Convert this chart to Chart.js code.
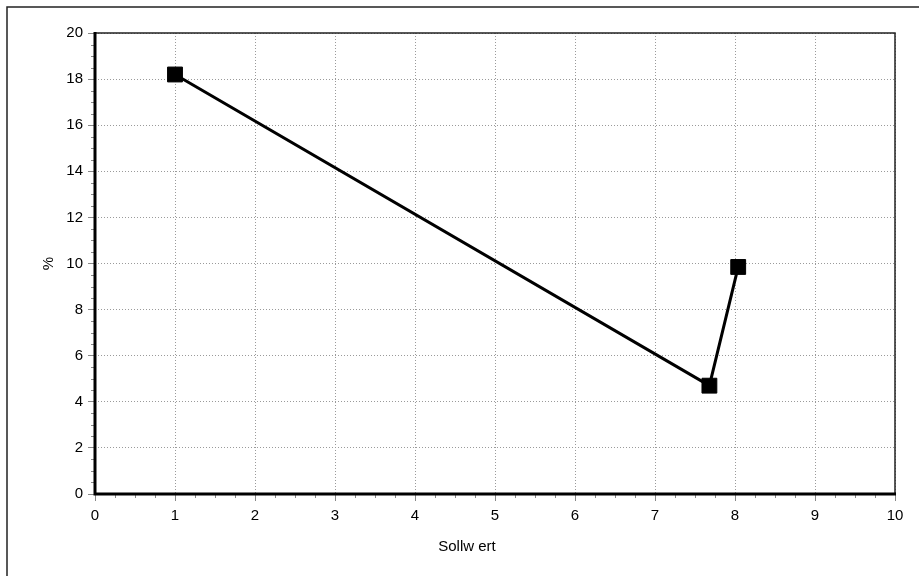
<!DOCTYPE html>
<html>
<head>
<meta charset="utf-8">
<script src="https://cdn.jsdelivr.net/npm/chart.js@4/dist/chart.umd.min.js"></script>
<style>
  html, body { margin: 0; padding: 0; background: #fff; }
  #wrap { width: 919px; height: 576px; position: relative; }
</style>
</head>
<body>
<div id="wrap"><canvas id="c" width="919" height="576"></canvas></div>
<script>
// Measured points
const sollwert = [1, 7.68, 8.04];
const prozent = [18.2, 4.7, 9.85];

// Axis settings
const xTitle = 'Sollw ert';
const yTitle = '%';
const xRange = [0, 10];
const yRange = [0, 20];
const xStep = 1;
const yStep = 2;
const xMinorStep = 0.25;
const yMinorStep = 0.5;

const FONT = '"Liberation Sans", Arial, sans-serif';

const points = sollwert.map((x, i) => ({ x: x, y: prozent[i] }));

// Frame, axis lines, minor ticks and axis titles
const decor = {
  id: 'decor',
  beforeDatasetsDraw(chart) {
    const ctx = chart.ctx;
    const a = chart.chartArea;
    const xs = chart.scales.x, ys = chart.scales.y;
    ctx.save();
    // outer frame (top and left edges)
    ctx.strokeStyle = '#222';
    ctx.lineWidth = 1.5;
    ctx.beginPath();
    ctx.moveTo(7, 580); ctx.lineTo(7, 7); ctx.lineTo(925, 7);
    ctx.stroke();

    // minor ticks
    ctx.strokeStyle = '#888';
    ctx.lineWidth = 1;
    ctx.beginPath();
    for (let v = xRange[0]; v <= xRange[1] + 1e-9; v += xMinorStep) {
      if (Math.abs(v / xStep - Math.round(v / xStep)) < 1e-6) continue;
      const px = Math.round(xs.getPixelForValue(v)) + 0.5;
      ctx.moveTo(px, a.bottom); ctx.lineTo(px, a.bottom + 4);
    }
    for (let v = yRange[0]; v <= yRange[1] + 1e-9; v += yMinorStep) {
      if (Math.abs(v / yStep - Math.round(v / yStep)) < 1e-6) continue;
      const py = Math.round(ys.getPixelForValue(v)) + 0.5;
      ctx.moveTo(a.left - 4, py); ctx.lineTo(a.left, py);
    }
    ctx.stroke();

    // top and right edges of plot area
    ctx.strokeStyle = '#222';
    ctx.lineWidth = 1.5;
    ctx.beginPath();
    ctx.moveTo(a.left, a.top); ctx.lineTo(a.right, a.top); ctx.lineTo(a.right, a.bottom);
    ctx.stroke();

    // heavy left and bottom axes
    ctx.strokeStyle = '#000';
    ctx.lineWidth = 3;
    ctx.beginPath();
    ctx.moveTo(a.left, a.top - 1); ctx.lineTo(a.left, a.bottom); ctx.lineTo(a.right + 1, a.bottom);
    ctx.stroke();
    ctx.restore();
  },
  afterDraw(chart) {
    const ctx = chart.ctx;
    const a = chart.chartArea;
    ctx.save();
    ctx.fillStyle = '#000';
    ctx.font = '15px ' + FONT;
    ctx.textAlign = 'center';
    ctx.textBaseline = 'middle';
    ctx.fillText(xTitle, 467, 547);
    ctx.translate(49, (a.top + a.bottom) / 2);
    ctx.rotate(-Math.PI / 2);
    ctx.fillText(yTitle, 0, 0);
    ctx.restore();
  }
};

const gridOpts = {
  color: '#9a9a9a',
  lineWidth: 1,
  tickColor: '#888',
  tickLength: 7,
  tickWidth: 1,
  tickBorderDash: []
};

new Chart(document.getElementById('c'), {
  type: 'scatter',
  data: {
    datasets: [{
      data: points,
      showLine: true,
      borderColor: '#000',
      borderWidth: 3,
      backgroundColor: '#000',
      pointStyle: 'rect',
      pointRadius: 10.5,
      pointHoverRadius: 10.5,
      pointBorderWidth: 1,
      pointBorderColor: '#000',
      pointBackgroundColor: '#000',
      tension: 0
    }]
  },
  options: {
    responsive: false,
    animation: false,
    events: [],
    layout: { padding: { top: 33, right: 24, left: 0, bottom: 0 } },
    plugins: { legend: { display: false }, tooltip: { enabled: false } },
    scales: {
      x: {
        type: 'linear',
        min: xRange[0], max: xRange[1],
        afterFit(s) { s.height = 82; },
        ticks: { stepSize: xStep, color: '#000', padding: 6, font: { family: FONT, size: 15 }, maxRotation: 0 },
        grid: gridOpts,
        border: { display: false, dash: [1, 2] }
      },
      y: {
        type: 'linear',
        min: yRange[0], max: yRange[1],
        afterFit(s) { s.width = 95; },
        ticks: { stepSize: yStep, color: '#000', padding: 5, font: { family: FONT, size: 15 } },
        grid: gridOpts,
        border: { display: false, dash: [1, 2] }
      }
    }
  },
  plugins: [decor]
});
</script>
</body>
</html>
